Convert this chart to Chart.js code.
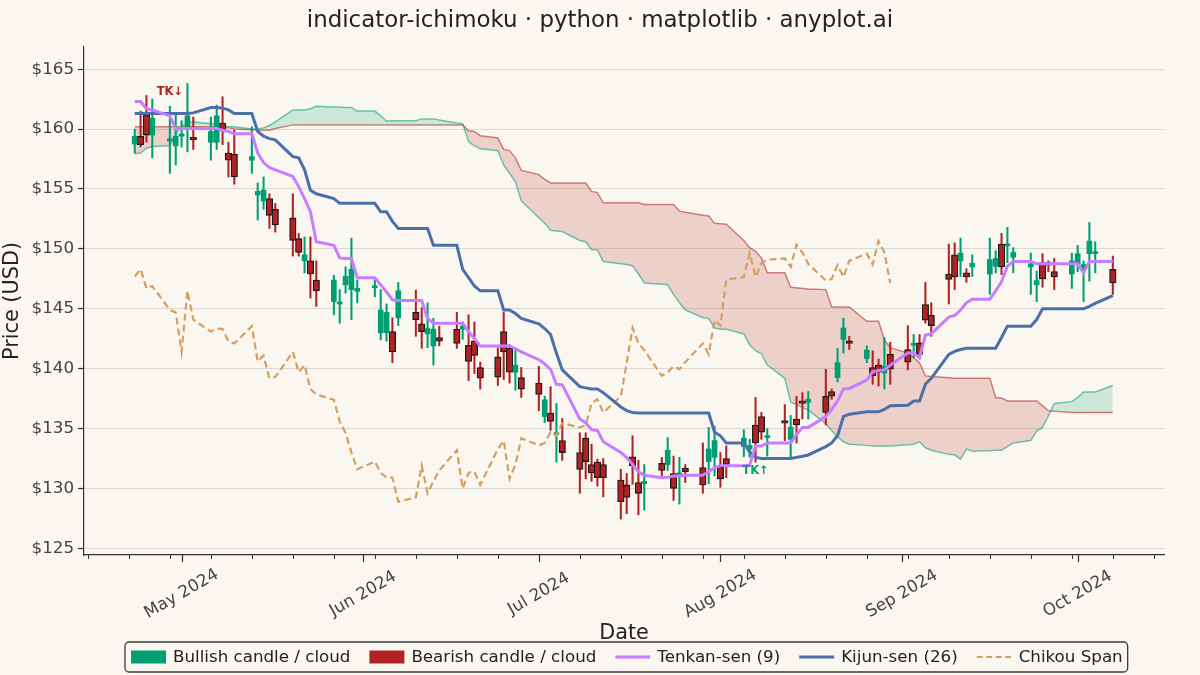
<!DOCTYPE html>
<html>
<head>
<meta charset="utf-8">
<script src="https://cdn.jsdelivr.net/npm/chart.js@4.4.1/dist/chart.umd.min.js"></script>
<style>
    html, body { margin: 0; padding: 0; background: #FAF7F0; }
    #wrap { width: 1200px; height: 675px; }
</style>
</head>
<body>
<div id="wrap"><canvas id="ichimoku" width="1200" height="675"></canvas></div>
<script>
// Trading days start here and run on weekdays, one per candle
const startDate = '2024-04-23';

// OHLC, one value per trading day
const opens = [
    158.75, 159.4, 161.2, 159.5, 159.0, 158.6, 159.4, 160.2, 159.2, 158.9,
    158.9, 160.5, 158.0, 157.9, 157.4, 154.5, 154.0, 154.2, 153.3, 152.6,
    150.85, 149.0, 149.0, 147.4, 145.6, 145.4, 147.0, 146.6, 146.45, 146.75,
    143.0, 143.0, 143.1, 144.25, 144.7, 143.75, 142.9, 141.9, 142.6, 143.3,
    143.3, 141.95, 142.3, 140.1, 141.0, 143.1, 141.7, 139.7, 139.25, 138.8,
    136.0, 136.3, 134.5, 134.0, 133.0, 134.2, 132.0, 132.2, 132.0, 130.7,
    130.3, 132.65, 130.5, 130.4, 132.1, 132.0, 131.25, 131.0, 131.7, 131.75,
    132.25, 132.6, 131.8, 132.5, 133.5, 133.3, 135.3, 136.0, 134.25, 135.6,
    134.1, 135.8, 137.2, 137.2, 137.7, 138.1, 139.25, 142.45, 142.3, 140.85,
    140.1, 140.3, 139.65, 141.2, 141.6, 141.95, 142.15, 145.35, 144.45, 147.9,
    149.5, 149.0, 148.0, 148.5, 147.9, 148.55, 150.4, 150.25, 149.3, 148.5,
    147.0, 148.85, 148.85, 148.1, 147.9, 148.75, 148.3, 149.6, 149.6, 148.3
];
const highs = [
    160.0, 161.5, 162.8, 162.5, 161.9, 161.4, 160.7, 163.8, 161.0, 161.0,
    162.0, 162.7, 158.9, 159.9, 160.2, 155.5, 156.0, 154.6, 153.8, 154.6,
    151.3, 151.0, 151.0, 149.0, 147.8, 146.6, 148.5, 150.9, 147.4, 147.4,
    146.6, 145.4, 144.25, 147.2, 146.55, 145.1, 145.5, 144.2, 143.55, 144.7,
    143.9, 144.5, 143.9, 140.55, 141.75, 144.7, 142.0, 141.6, 140.1, 140.2,
    137.7, 138.5, 137.1, 135.85, 134.65, 134.65, 133.7, 132.45, 132.5, 131.6,
    131.25, 134.4, 132.35, 132.0, 132.6, 134.25, 132.7, 132.6, 132.0, 133.8,
    135.1, 135.2, 133.0, 133.55, 134.9, 134.1, 137.6, 136.35, 135.0, 137.0,
    136.1, 137.7, 138.0, 138.1, 139.95, 138.3, 141.7, 144.2, 142.7, 141.9,
    141.5, 140.8, 142.6, 142.2, 143.6, 142.85, 142.85, 147.2, 145.5, 150.4,
    150.5, 150.9, 148.35, 149.5, 150.9, 149.85, 151.3, 151.8, 150.1, 149.65,
    148.15, 149.6, 149.0, 149.2, 149.65, 150.3, 149.0, 152.2, 150.6, 149.4
];
const lows = [
    158.0, 158.5, 158.9, 157.6, 156.3, 157.0, 158.5, 158.1, 158.3, 157.4,
    158.3, 158.7, 156.0, 155.4, 156.3, 152.4, 153.3, 151.7, 151.4, 149.4,
    149.4, 148.0, 145.9, 145.2, 144.5, 143.8, 146.3, 144.1, 145.5, 146.0,
    142.4, 142.3, 140.5, 143.6, 142.7, 141.7, 141.75, 140.3, 141.9, 141.7,
    142.45, 139.0, 139.6, 138.3, 138.6, 139.1, 138.8, 138.2, 137.6, 136.5,
    135.5, 134.85, 132.2, 132.35, 129.6, 130.8, 130.6, 130.2, 129.3, 127.45,
    127.9, 130.35, 127.8, 128.2, 131.0, 131.5, 129.0, 128.7, 130.5, 129.6,
    130.4, 131.05, 130.1, 130.9, 132.65, 132.6, 132.2, 134.1, 132.7, 134.0,
    132.45, 133.8, 135.8, 135.8, 135.3, 137.45, 138.9, 141.3, 141.6, 140.5,
    138.7, 138.55, 138.3, 138.7, 139.9, 140.9, 140.9, 143.8, 142.7, 145.4,
    146.6, 147.7, 147.2, 147.7, 146.2, 148.0, 147.85, 148.85, 148.0, 146.2,
    145.6, 146.8, 148.1, 146.6, 146.7, 148.1, 145.6, 147.3, 148.0, 146.2
];
const closes = [
    159.4, 158.7, 159.5, 160.9, 159.2, 159.4, 159.6, 161.1, 159.1, 159.8,
    161.1, 159.9, 157.4, 156.0, 157.7, 154.8, 154.9, 152.8, 152.0, 150.7,
    149.7, 149.5, 147.9, 146.5, 147.4, 145.55, 147.7, 148.3, 146.7, 146.9,
    144.9, 144.7, 141.4, 146.5, 144.1, 143.1, 143.35, 143.3, 142.3, 142.1,
    143.55, 140.6, 141.1, 139.2, 139.3, 141.4, 139.7, 140.3, 138.3, 137.85,
    137.4, 135.6, 134.65, 133.0, 131.6, 132.25, 131.3, 130.9, 130.9, 128.9,
    129.25, 131.9, 129.6, 130.6, 131.5, 133.2, 130.0, 131.3, 131.4, 130.3,
    133.3, 134.0, 130.8, 132.0, 134.2, 133.6, 133.8, 134.7, 134.4, 135.45,
    135.1, 135.3, 137.1, 137.45, 136.35, 137.7, 140.5, 143.4, 142.1, 141.55,
    139.4, 139.7, 140.2, 139.95, 140.55, 142.1, 141.2, 144.05, 143.6, 147.45,
    147.65, 149.65, 147.65, 148.8, 149.1, 149.2, 148.5, 150.35, 149.7, 148.75,
    147.35, 147.5, 148.65, 147.65, 149.0, 149.6, 148.7, 150.65, 149.7, 147.15
];

// Tenkan-sen and Kijun-sen, per trading day
const tenkan = [
    162.3, 162.3, 161.7, 161.6, 161.1, 160.0, 160.05, 160.05, 160.05, 160.05,
    160.05, 159.9, 159.8, 159.6, 159.6, 158.0, 157.2, 156.8, 156.6, 156.05,
    155.2, 154.2, 153.1, 150.6, 150.3, 149.25, 149.2, 149.2, 147.6, 147.6,
    147.0, 146.4, 145.75, 145.7, 145.7, 145.7, 144.2, 143.8, 143.8, 143.8,
    143.8, 143.1, 142.5, 141.9, 141.9, 141.9, 141.9, 141.65, 141.4, 140.75,
    140.4, 139.95, 138.7, 138.65, 135.8, 135.5, 134.9, 134.85, 133.9, 133.0,
    132.6, 132.0, 131.4, 131.1, 130.9, 130.95, 131.05, 131.05, 131.1, 131.1,
    131.4, 131.75, 131.9, 131.9, 131.9, 131.95, 133.55, 133.55, 133.8, 133.8,
    133.8, 134.5, 135.1, 135.1, 136.0, 136.6, 137.3, 138.3, 138.35, 139.05,
    139.75, 139.85, 139.9, 140.3, 141.3, 141.3, 140.9, 142.8, 142.9, 144.3,
    144.45, 144.9, 145.5, 145.8, 145.8, 146.5, 147.25, 148.55, 148.95, 148.95,
    148.75, 148.75, 148.75, 148.75, 148.75, 148.75, 148.0, 148.95, 148.95, 148.95
];
const kijun = [
    161.3, 161.3, 161.3, 161.3, 161.3, 161.3, 161.3, 161.3, 161.35, 161.8,
    161.8, 161.75, 161.6, 161.3, 161.3, 159.8, 159.4, 159.2, 159.1, 157.7,
    157.6, 156.6, 154.9, 154.6, 154.2, 153.8, 153.8, 153.8, 153.8, 153.8,
    153.1, 153.1, 152.3, 151.7, 151.7, 151.7, 151.7, 150.3, 150.3, 150.3,
    148.3, 147.6, 146.9, 146.5, 146.5, 144.9, 144.9, 144.6, 144.2, 143.75,
    143.35, 142.85, 141.3, 139.9, 138.5, 138.4, 138.3, 138.3, 138.0, 136.8,
    136.5, 136.35, 136.3, 136.3, 136.3, 136.3, 136.3, 136.3, 136.3, 136.3,
    136.3, 134.7, 134.4, 133.8, 133.8, 133.05, 132.6, 132.5, 132.5, 132.5,
    132.5, 132.6, 132.7, 132.8, 133.5, 133.8, 134.4, 136.0, 136.2, 136.4,
    136.4, 136.4, 136.6, 136.9, 136.95, 137.3, 137.3, 138.7, 139.2, 141.2,
    141.45, 141.6, 141.7, 141.7, 141.7, 141.7, 142.6, 143.55, 143.55, 143.55,
    144.1, 145.0, 145.0, 145.0, 145.0, 145.0, 145.0, 145.2, 145.45, 146.1
];

// Cloud edges (Senkou Span A / B) as drawn on the chart
const spanA = [
    157.95, 158.0, 158.4, 158.55, 158.6, 159.5, 160.3, 160.5, 160.6, 160.45,
    160.4, 160.3, 160.2, 160.2, 160.0, 160.0, 160.1, 160.3, 160.6, 161.6,
    161.6, 161.6, 161.7, 161.9, 161.85, 161.85, 161.8, 161.8, 161.5, 161.5,
    161.1, 160.65, 160.7, 160.7, 160.7, 160.85, 160.85, 160.85, 160.75, 160.5,
    160.45, 158.95, 158.6, 158.35, 158.2, 157.0, 156.3, 155.6, 154.0, 152.6,
    152.15, 151.55, 151.5, 151.45, 150.7, 150.6, 149.95, 149.9, 148.95, 148.75,
    148.7, 148.6, 147.9, 147.15, 147.05, 147.0, 146.2, 145.5, 144.9, 144.25,
    144.2, 143.4, 143.3, 143.3, 142.9, 142.0, 141.5, 141.25, 140.3, 139.2,
    137.2, 137.0, 136.75, 136.55, 135.4, 134.85, 134.3, 133.9, 133.7, 133.6,
    133.55, 133.55, 133.55, 133.55, 133.65, 133.7, 133.9, 133.4, 133.2, 132.85,
    132.8, 132.45, 133.3, 133.1, 133.15, 133.2, 133.2, 133.5, 133.8, 134.0,
    134.8, 135.1, 136.05, 137.1, 137.25, 137.6, 138.05, 138.05, 138.05, 138.6
];
const spanB = [
    160.2, 160.2, 160.2, 160.2, 160.2, 160.2, 160.2, 160.2, 160.2, 160.2,
    160.2, 160.15, 160.1, 160.0, 159.95, 159.9, 159.9, 159.9, 160.05, 160.35,
    160.35, 160.35, 160.35, 160.35, 160.35, 160.35, 160.35, 160.35, 160.35, 160.35,
    160.35, 160.35, 160.35, 160.35, 160.35, 160.35, 160.35, 160.35, 160.35, 160.35,
    160.35, 159.85, 159.8, 159.45, 159.25, 158.3, 158.2, 157.6, 156.55, 156.2,
    155.8, 155.5, 155.5, 155.5, 155.5, 155.5, 154.8, 154.7, 153.85, 153.85,
    153.85, 153.85, 153.85, 153.7, 153.7, 153.7, 153.7, 153.15, 153.05, 152.8,
    152.75, 152.15, 152.1, 152.05, 150.7, 150.1, 149.8, 149.25, 148.0, 148.0,
    146.8, 146.75, 146.7, 146.65, 146.6, 145.15, 145.15, 145.15, 145.15, 143.95,
    143.95, 143.95, 142.4, 141.75, 141.3, 140.9, 140.5, 139.4, 139.35, 139.25,
    139.2, 139.2, 139.2, 139.2, 139.2, 137.6, 137.55, 137.3, 137.3, 137.3,
    137.3, 136.9, 136.5, 136.45, 136.35, 136.35, 136.35, 136.35, 136.35, 136.35
];

// Chikou span: close plotted this many trading days back
const chikouShift = 26;

// Axis ticks
const priceTicks = [125, 130, 135, 140, 145, 150, 155, 160, 165];
const monthTicks = ['2024-05-01', '2024-06-01', '2024-07-01', '2024-08-01', '2024-09-01', '2024-10-01'];
const monthNames = ['Jan', 'Feb', 'Mar', 'Apr', 'May', 'Jun', 'Jul', 'Aug', 'Sep', 'Oct', 'Nov', 'Dec'];

// Tenkan/Kijun cross markers
const crossIdx = [4, 76];
const crossVal = [163.1, 131.5];
const crossText = ['TK↓', 'TK↑'];

// Colours and fonts
const colors = {
    bull: '#009E73',
    bear: '#B22222',
    tenkan: '#C77DFF',
    kijun: '#4C6FAA',
    chikou: '#D4A062',
    ink: '#222222',
    tick: '#444444',
    spine: '#333333',
    grid: '#DCD9D2',
    bg: '#FAF7F0'
};
const FONT = "'DejaVu Sans', 'Liberation Sans', sans-serif";

// Day offsets from startDate
const DAY = 86400000;
const t0 = Date.parse(startDate + 'T00:00:00Z');
const dayOf = iso => (Date.parse(iso + 'T00:00:00Z') - t0) / DAY;

const tradingDays = [];
for (let t = t0; tradingDays.length < closes.length; t += DAY) {
    const wd = new Date(t).getUTCDay();
    if (wd !== 0 && wd !== 6) tradingDays.push((t - t0) / DAY);
}

const xMin = -8.66;
const xMax = 175.74;
const monthDays = monthTicks.map(dayOf);

// Split candles by direction
const bullIdx = [];
const bearIdx = [];
closes.forEach((c, i) => (c >= opens[i] ? bullIdx : bearIdx).push(i));

const bodies = idx => idx.map(i => ({ x: tradingDays[i], y: [opens[i], closes[i]] }));
const wicks = idx => idx.map(i => ({ x: tradingDays[i], y: [lows[i], highs[i]] }));
const series = arr => arr.map((v, i) => ({ x: tradingDays[i], y: v }));
const chikou = closes.slice(chikouShift).map((c, i) => ({ x: tradingDays[i], y: c }));

const lineBase = { type: 'line', pointRadius: 0, tension: 0, fill: false };
const barBase = { type: 'bar', grouped: false, borderSkipped: false };

const datasets = [
    { ...lineBase, label: 'Senkou B', data: series(spanB), borderColor: 'rgba(178,34,34,0.55)', borderWidth: 1.5, order: 19 },
    { ...lineBase, label: 'Senkou A', data: series(spanA), borderColor: 'rgba(0,158,115,0.55)', borderWidth: 1.5, order: 20,
      fill: { target: 0, above: 'rgba(0,158,115,0.18)', below: 'rgba(178,34,34,0.18)' } },
    { ...barBase, label: 'wick up', data: wicks(bullIdx), backgroundColor: colors.bull, barThickness: 1.4, order: 12 },
    { ...barBase, label: 'wick down', data: wicks(bearIdx), backgroundColor: colors.bear, barThickness: 1.4, order: 12 },
    { ...barBase, label: 'body up', data: bodies(bullIdx), backgroundColor: colors.bull, barThickness: 5, minBarLength: 2, order: 10 },
    { ...barBase, label: 'body down', data: bodies(bearIdx), backgroundColor: colors.bear, borderColor: '#1B1B1B',
      borderWidth: 1.3, barThickness: 6.5, minBarLength: 2.6, order: 10 },
    { ...lineBase, label: 'Chikou Span', data: chikou, borderColor: colors.chikou, borderWidth: 2.2, borderDash: [7, 4], order: 3 },
    { ...lineBase, label: 'Kijun-sen (26)', data: series(kijun), borderColor: colors.kijun, borderWidth: 3, order: 2 },
    { ...lineBase, label: 'Tenkan-sen (9)', data: series(tenkan), borderColor: colors.tenkan, borderWidth: 3, order: 1 }
];

// Legend entries drawn in the frame under the axis
const legendItems = [
    { kind: 'box', color: colors.bull, text: 'Bullish candle / cloud' },
    { kind: 'box', color: colors.bear, text: 'Bearish candle / cloud' },
    { kind: 'line', color: colors.tenkan, width: 3, text: 'Tenkan-sen (9)' },
    { kind: 'line', color: colors.kijun, width: 3, text: 'Kijun-sen (26)' },
    { kind: 'dash', color: colors.chikou, width: 2, text: 'Chikou Span' }
];

// Background, title, x ticks and labels, cross markers, legend
const decor = {
    id: 'decor',
    beforeDraw(chart) {
        const ctx = chart.ctx;
        ctx.save();
        ctx.fillStyle = colors.bg;
        ctx.fillRect(0, 0, chart.width, chart.height);
        ctx.restore();
    },
    afterDatasetsDraw(chart) {
        const { ctx, scales: { x, y } } = chart;
        ctx.save();
        ctx.font = `bold 11.5px ${FONT}`;
        ctx.textAlign = 'center';
        ctx.textBaseline = 'middle';
        crossText.forEach((t, k) => {
            ctx.fillStyle = t.includes('↓') ? colors.bear : colors.bull;
            ctx.fillText(t, x.getPixelForValue(tradingDays[crossIdx[k]]), y.getPixelForValue(crossVal[k]));
        });
        ctx.restore();
    },
    afterDraw(chart) {
        const { ctx, chartArea, scales: { x } } = chart;
        ctx.save();

        // Title
        ctx.fillStyle = colors.ink;
        ctx.font = `22.9px ${FONT}`;
        ctx.textAlign = 'center';
        ctx.textBaseline = 'middle';
        ctx.fillText('indicator-ichimoku · python · matplotlib · anyplot.ai', 600, 21);

        // Tick marks: month starts (major) and Mondays (minor)
        ctx.strokeStyle = colors.spine;
        const tickMark = (d, len, w) => {
            const px = Math.round(x.getPixelForValue(d)) + 0.5;
            ctx.lineWidth = w;
            ctx.beginPath();
            ctx.moveTo(px, chartArea.bottom);
            ctx.lineTo(px, chartArea.bottom + len);
            ctx.stroke();
        };
        for (let d = Math.ceil(xMin); d <= xMax; d++) {
            if (new Date(t0 + d * DAY).getUTCDay() === 1) tickMark(d, 4, 1);
        }
        monthDays.forEach(d => tickMark(d, 7, 1.2));

        // Month labels, rotated and centred on their tick
        ctx.fillStyle = colors.tick;
        ctx.font = `16.7px ${FONT}`;
        monthTicks.forEach((iso, k) => {
            const dt = new Date(iso + 'T00:00:00Z');
            const label = monthNames[dt.getUTCMonth()] + ' ' + dt.getUTCFullYear();
            ctx.save();
            ctx.translate(x.getPixelForValue(monthDays[k]), chartArea.bottom + 39);
            ctx.rotate(-Math.PI / 6);
            ctx.fillText(label, 0, 0);
            ctx.restore();
        });

        // Legend frame and entries
        const top = 642, h = 30, cy = top + h / 2;
        ctx.font = `16.7px ${FONT}`;
        ctx.textAlign = 'left';
        let cx = 131;
        const boxLeft = 125;
        legendItems.forEach(item => {
            if (item.kind === 'box') {
                ctx.fillStyle = item.color;
                ctx.fillRect(cx, cy - 6.5, 35, 13);
            } else {
                ctx.strokeStyle = item.color;
                ctx.lineWidth = item.width;
                ctx.setLineDash(item.kind === 'dash' ? [6, 3.5] : []);
                ctx.beginPath();
                ctx.moveTo(cx, cy);
                ctx.lineTo(cx + 35, cy);
                ctx.stroke();
                ctx.setLineDash([]);
            }
            ctx.fillStyle = colors.ink;
            ctx.fillText(item.text, cx + 42, cy + 1);
            cx += 42 + ctx.measureText(item.text).width + 19;
        });
        const boxRight = cx - 19 + 5;
        ctx.strokeStyle = '#3A3A3A';
        ctx.lineWidth = 1.3;
        ctx.beginPath();
        ctx.roundRect(boxLeft, top, boxRight - boxLeft, h, 4);
        ctx.stroke();

        ctx.restore();
    }
};

// Chart setup
const canvas = document.getElementById('ichimoku');
new Chart(canvas.getContext('2d'), {
    type: 'line',
    data: { datasets },
    options: {
        responsive: false,
        animation: false,
        events: [],
        layout: { padding: { top: 47, right: 36, bottom: 28.5, left: 0 } },
        plugins: {
            legend: { display: false },
            tooltip: { enabled: false },
            title: { display: false }
        },
        scales: {
            x: {
                type: 'linear',
                min: xMin,
                max: xMax,
                offset: false,
                afterBuildTicks: s => { s.ticks = monthDays.map(v => ({ value: v })); },
                afterFit: s => { s.height = 91.5; },
                ticks: { display: false },
                grid: { display: false },
                border: { display: true, color: colors.spine, width: 1.2 },
                title: { display: true, text: 'Date', color: colors.ink, font: { family: FONT, size: 20.8 }, padding: 0 }
            },
            y: {
                type: 'linear',
                min: 124.45,
                max: 166.85,
                afterBuildTicks: s => { s.ticks = priceTicks.map(v => ({ value: v })); },
                afterFit: s => { s.width = 84; },
                ticks: {
                    callback: v => '$' + v,
                    color: colors.tick,
                    font: { family: FONT, size: 16.7 },
                    padding: 4
                },
                grid: { color: colors.grid, lineWidth: 1, tickColor: colors.spine, tickLength: 6, tickWidth: 1.2 },
                border: { display: true, color: colors.spine, width: 1.2 },
                title: { display: true, text: 'Price (USD)', color: colors.ink, font: { family: FONT, size: 20.8 }, padding: 0 }
            }
        }
    },
    plugins: [decor]
});
</script>
</body>
</html>
